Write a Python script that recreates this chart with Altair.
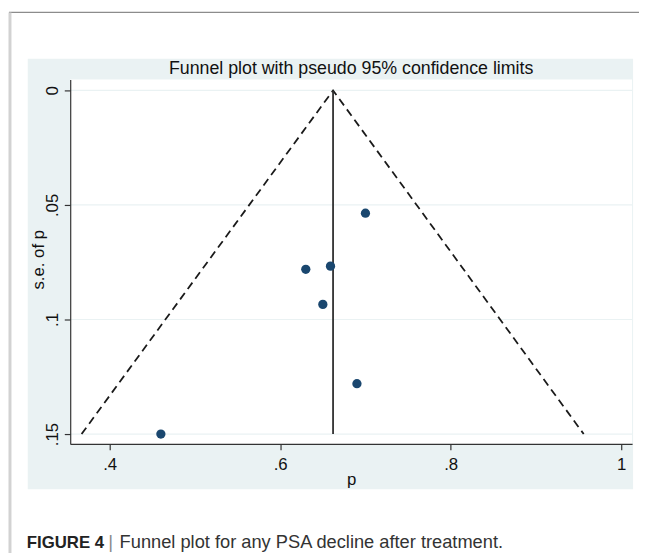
import altair as alt
import pandas as pd

# ---- values ----
p_values = [0.460, 0.700, 0.630, 0.659, 0.650, 0.690]
se_values = [0.150, 0.0536, 0.0781, 0.0767, 0.0934, 0.128]

pooled_p = 0.662
funnel_p = [0.367, 0.662, 0.956]
funnel_se = [0.150, 0.0, 0.150]

x_ticks = [0.4, 0.6, 0.8, 1.0]
y_ticks = [0.0, 0.05, 0.1, 0.15]

title_text = "Funnel plot with pseudo 95% confidence limits"
x_title = "p"
y_title = "s.e. of p"
caption_label = "FIGURE 4"
caption_sep = "|"
caption_text = "Funnel plot for any PSA decline after treatment."

# ---- layout ----
W, H = 569, 369
x_domain = [0.35367, 1.01277]
y_domain = [-0.00474, 0.15431]
FONT = "Liberation Sans, Arial, sans-serif"
BG = "#eaf2f3"
INK = "#111111"

points = pd.DataFrame({"p": p_values, "se": se_values})
funnel = pd.DataFrame({"p": funnel_p, "se": funnel_se, "order": [0, 1, 2]})
grid = pd.DataFrame({"se": y_ticks})
vline = pd.DataFrame({"p": [pooled_p], "se0": [0.0], "se1": [0.15]})
one = pd.DataFrame({"k": [0]})

label_expr = ("datum.value == 0 ? '0' : (datum.value >= 1 ? format(datum.value, 'd') "
              ": slice(format(datum.value, '~g'), 1))")

xscale = alt.Scale(domain=x_domain, nice=False, zero=False)
yscale = alt.Scale(domain=y_domain, nice=False, zero=False, reverse=True)

common = dict(labelFont=FONT, labelFontSize=17, labelColor=INK,
              titleFont=FONT, titleFontSize=17, titleFontWeight="normal",
              titleColor=INK, domainColor="#333333", domainWidth=1.2,
              tickColor="#333333", tickSize=6, tickWidth=1.2, grid=False,
              labelFlush=False, labelOverlap=False, zindex=1)

xaxis = alt.Axis(values=x_ticks, labelExpr=label_expr, title=x_title,
                 labelBaseline="alphabetic", labelPadding=20,
                 titleX=W / 2, titleY=41, titleBaseline="alphabetic",
                 titleAlign="center", **common)
yaxis = alt.Axis(values=y_ticks, labelExpr=label_expr, title=y_title,
                 labelAngle=270, labelAlign="center", labelBaseline="alphabetic",
                 labelPadding=7, titleAngle=270, titleX=-27, titleY=182,
                 titleBaseline="alphabetic", titleAlign="center", **common)

X = alt.X("p:Q", scale=xscale, axis=xaxis)
Y = alt.Y("se:Q", scale=yscale, axis=yaxis)

graph_bg = alt.Chart(one).mark_rect(color=BG).encode(
    x=alt.value(-43), x2=alt.value(570), y=alt.value(-21), y2=alt.value(415))
plot_bg = alt.Chart(one).mark_rect(color="white").encode(
    x=alt.value(0), x2=alt.value(W), y=alt.value(0), y2=alt.value(H))
frame_top = alt.Chart(one).mark_rule(color="#8c8c8c", strokeWidth=1.3).encode(
    x=alt.value(-62), x2=alt.value(580), y=alt.value(-68))
frame_left = alt.Chart(one).mark_rule(color="#d2d2d2", strokeWidth=3).encode(
    x=alt.value(-61), y=alt.value(-68), y2=alt.value(480))

gridlines = alt.Chart(grid).mark_rule(color=BG, strokeWidth=1.2).encode(
    y=Y, x=alt.value(0), x2=alt.value(W))

funnel_lines = alt.Chart(funnel).mark_line(
    color="#1a1a1a", strokeWidth=1.8, strokeDash=[8, 5]).encode(
    x=X, y=Y, order="order:Q")

center_line = alt.Chart(vline).mark_rule(color="#2e2e2e", strokeWidth=1.8).encode(
    x=X, y=alt.Y("se0:Q", scale=yscale, axis=yaxis), y2="se1:Q")

dots = alt.Chart(points).mark_circle(size=88, color="#1a476f", opacity=1).encode(
    x=X, y=Y)

title = alt.Chart(one).mark_text(font=FONT, fontSize=18, color=INK,
                                 align="center", baseline="alphabetic").encode(
    x=alt.value(W / 2), y=alt.value(-6), text=alt.value(title_text))

cap1 = alt.Chart(one).mark_text(font=FONT, fontSize=17, fontWeight="bold",
                                color="#222222", align="left",
                                baseline="alphabetic").encode(
    x=alt.value(-44), y=alt.value(474), text=alt.value(caption_label))
cap2 = alt.Chart(one).mark_text(font=FONT, fontSize=19, color="#8a8a8a",
                                align="center", baseline="alphabetic").encode(
    x=alt.value(41), y=alt.value(474), text=alt.value(caption_sep))
cap3 = alt.Chart(one).mark_text(font=FONT, fontSize=18.5, color="#333333",
                                align="left", baseline="alphabetic").encode(
    x=alt.value(50), y=alt.value(474), text=alt.value(caption_text))

chart = alt.layer(
    graph_bg, plot_bg, frame_top, frame_left, gridlines,
    funnel_lines, center_line, dots, title, cap1, cap2, cap3
).properties(
    width=W, height=H,
    padding={"left": 63, "top": 69, "right": 7, "bottom": 107},
    autosize=alt.AutoSizeParams(type="none"),
    background="white",
).configure_view(stroke=None)

chart.save("out.html", embed_options={"renderer": "svg", "actions": False})
